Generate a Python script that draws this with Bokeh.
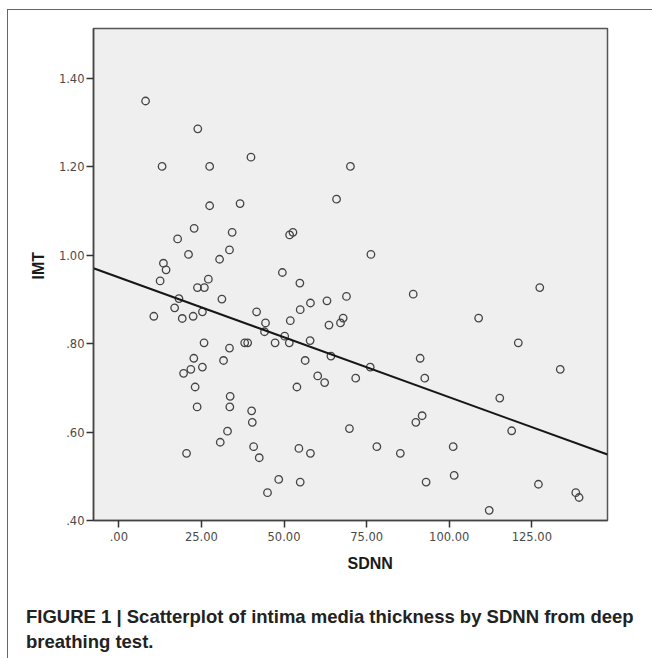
from bokeh.plotting import figure
from bokeh.models import FixedTicker, Range1d, Title, Div
from bokeh.layouts import column
from bokeh.embed import file_html
from bokeh.resources import INLINE

# ---- data ----
sdnn = [8.1, 23.9, 13.1, 27.5, 40.0, 27.5, 36.7, 22.8, 17.8, 34.3,
        51.7, 52.7, 21.1, 33.5, 13.5, 14.3, 30.5, 12.5, 23.8, 25.9,
        27.1, 49.5, 54.8, 18.2, 31.2, 63.0, 16.9, 10.6, 19.2, 22.5,
        25.3, 41.7, 44.4, 44.1, 51.9, 54.9, 58.0, 63.6, 50.2, 57.9,
        25.8, 33.5, 38.1, 39.0, 47.3, 51.6, 64.2, 22.7, 21.8, 19.6,
        25.3, 31.7, 56.4, 60.2, 62.3, 23.1, 53.9, 33.7, 23.7, 33.6,
        40.2, 40.4, 32.9, 30.7, 40.8, 42.5, 20.5, 54.5, 58.0, 48.4,
        54.9, 45.0, 70.1, 65.9, 76.3, 89.1, 127.4, 68.9, 67.1, 67.9,
        108.9, 120.9, 76.1, 91.2, 92.6, 133.6, 71.7, 115.3, 91.8, 89.9,
        69.8, 118.9, 78.1, 85.2, 101.2, 93.0, 101.5, 127.0, 138.3, 139.3,
        112.1]
imt = [1.349, 1.286, 1.201, 1.201, 1.222, 1.112, 1.117, 1.061, 1.037, 1.052,
       1.046, 1.052, 1.002, 1.012, 0.982, 0.967, 0.991, 0.942, 0.927, 0.927,
       0.946, 0.961, 0.937, 0.902, 0.901, 0.897, 0.881, 0.862, 0.857, 0.862,
       0.872, 0.872, 0.847, 0.827, 0.852, 0.877, 0.892, 0.842, 0.817, 0.807,
       0.802, 0.790, 0.802, 0.802, 0.802, 0.802, 0.772, 0.767, 0.742, 0.733,
       0.747, 0.762, 0.762, 0.727, 0.712, 0.702, 0.702, 0.681, 0.657, 0.657,
       0.648, 0.622, 0.602, 0.577, 0.567, 0.542, 0.552, 0.563, 0.552, 0.493,
       0.487, 0.463, 1.201, 1.127, 1.002, 0.912, 0.927, 0.907, 0.847, 0.858,
       0.858, 0.802, 0.747, 0.767, 0.722, 0.742, 0.722, 0.677, 0.637, 0.622,
       0.608, 0.603, 0.567, 0.552, 0.567, 0.487, 0.502, 0.482, 0.463, 0.452,
       0.423]

fit_intercept = 0.950
fit_slope = -0.00271

x_ticks = [0, 25, 50, 75, 100, 125]
x_tick_labels = [".00", "25.00", "50.00", "75.00", "100.00", "125.00"]
y_ticks = [0.40, 0.60, 0.80, 1.00, 1.20, 1.40]
y_tick_labels = [".40", ".60", ".80", "1.00", "1.20", "1.40"]

x_label = "SDNN"
y_label = "IMT"
caption_1 = "FIGURE 1 | Scatterplot of intima media thickness by SDNN from deep"
caption_2 = "breathing test."

# ---- layout ----
X0, X1 = -7.66, 147.9
Y0, Y1 = 0.40, 1.513
FL, FT, FW, FH = 85, 18, 514, 492
W, H = 640, 570

p = figure(width=W, height=H, frame_width=FW, frame_height=FH,
           min_border_left=FL, min_border_top=FT,
           min_border_right=W - FL - FW, min_border_bottom=H - FT - FH,
           x_range=Range1d(X0, X1), y_range=Range1d(Y0, Y1),
           output_backend="svg", toolbar_location=None)

p.background_fill_color = "#efefef"
p.border_fill_color = "white"
p.outline_line_color = "#555555"
p.outline_line_width = 1.5
p.grid.visible = False

for ax, ticks, labels in ((p.xaxis[0], x_ticks, x_tick_labels),
                          (p.yaxis[0], y_ticks, y_tick_labels)):
    ax.ticker = FixedTicker(ticks=ticks)
    ax.major_label_overrides = {t: l for t, l in zip(ticks, labels)}
    ax.minor_tick_line_color = None
    ax.major_tick_in = 0
    ax.major_tick_out = 7
    ax.major_tick_line_color = "#333333"
    ax.major_tick_line_width = 1.5
    ax.axis_line_color = "#444444"
    ax.axis_line_width = 1.5
    ax.major_label_text_font = "DejaVu Sans"
    ax.major_label_text_font_size = "11.5px"
    ax.major_label_text_color = "#4a4a4a"
p.xaxis[0].major_label_standoff = 4
p.yaxis[0].major_label_standoff = 2

p.scatter(sdnn, imt, marker="circle", size=7.5, fill_color=None,
          line_color="#444444", line_width=1.3)

lx = [X0, X1]
ly = [fit_intercept + fit_slope * v for v in lx]
p.line(lx, ly, line_color="#161616", line_width=2)

# axis titles, placed off-centre like the original
p.add_layout(Title(text=x_label, align="left", offset=254, standoff=18,
                   text_font="Liberation Sans", text_font_style="bold",
                   text_font_size="16px", text_color="#1a1a1a"), "below")
p.add_layout(Title(text=y_label, align="left", offset=241, standoff=18,
                   text_font="Liberation Sans", text_font_style="bold",
                   text_font_size="16px", text_color="#1a1a1a"), "left")

cap = Div(text=(
    '<div style="font-family:\'Liberation Sans\',Arial,sans-serif;'
    'font-weight:bold;font-size:18.5px;line-height:25px;color:#222222;'
    'white-space:nowrap;padding:19px 0 0 13px;margin:0;">'
    + caption_1 + '<br>' + caption_2 + '</div>'),
    width=W, height=74)

layout = column(p, cap, spacing=0,
                styles={"margin-left": "7px", "margin-top": "9px",
                        "border-left": "1.5px solid #666666",
                        "border-top": "1.5px solid #666666"})

open("out.html", "w").write(file_html(layout, INLINE))
